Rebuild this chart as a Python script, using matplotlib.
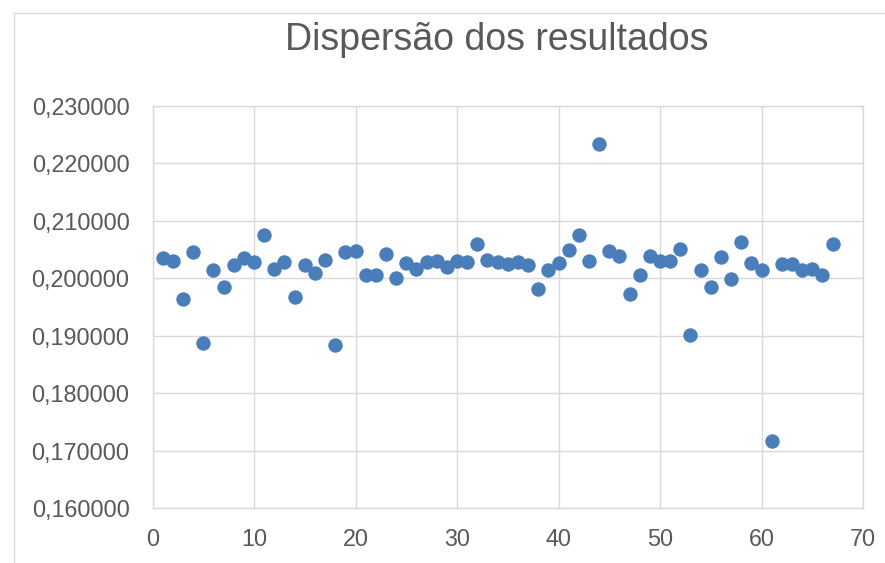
import matplotlib
matplotlib.use("Agg")
import matplotlib.pyplot as plt
from matplotlib.patches import Rectangle
from matplotlib.ticker import FuncFormatter

title = "Dispersão dos resultados"
x_values = list(range(1, 68))
y_values = [
    0.20347, 0.20306, 0.19647, 0.20462, 0.18879, 0.20150, 0.19844, 0.20231, 0.20347, 0.20289,
    0.20746, 0.20156, 0.20289, 0.19676, 0.20231, 0.20098, 0.20318, 0.18832, 0.20451, 0.20468,
    0.20058, 0.20064, 0.20416, 0.20012, 0.20272, 0.20168, 0.20289, 0.20301, 0.20202, 0.20301,
    0.20289, 0.20590, 0.20318, 0.20289, 0.20243, 0.20289, 0.20231, 0.19821, 0.20145, 0.20260,
    0.20491, 0.20751, 0.20295, 0.22329, 0.20468, 0.20393, 0.19728, 0.20058, 0.20393, 0.20306,
    0.20306, 0.20503, 0.19012, 0.20145, 0.19850, 0.20364, 0.19994, 0.20636, 0.20260, 0.20150,
    0.17168, 0.20249, 0.20249, 0.20145, 0.20162, 0.20052, 0.20590,
]
x_ticks = [0, 10, 20, 30, 40, 50, 60, 70]
y_ticks = [0.16, 0.17, 0.18, 0.19, 0.20, 0.21, 0.22, 0.23]

plt.rcParams['font.family'] = ['Liberation Sans', 'DejaVu Sans']

W, H = 885, 563
fig = plt.figure(figsize=(W / 100, H / 100), dpi=100)

# chart-area border (extends beyond the image to right and bottom)
fig.patches.append(Rectangle((14 / W, -0.1), 2.0, 1 - 13 / H + 0.1,
                             transform=fig.transFigure, fill=False,
                             edgecolor='#d9d9d9', linewidth=1.0))

left, right = 152.5 / W, 863 / W
top, bottom = 1 - 105.7 / H, 1 - 508.3 / H
ax = fig.add_axes([left, bottom, right - left, top - bottom])

ax.scatter(x_values, y_values, s=108, color='#4a7ebb', zorder=3, linewidths=0)

ax.set_xlim(0, 70)
ax.set_ylim(0.16, 0.23)
ax.set_xticks(x_ticks)
ax.set_yticks(y_ticks)
ax.yaxis.set_major_formatter(FuncFormatter(lambda v, p: f"{v:.6f}".replace('.', ',')))
ax.grid(True, color='#d9d9d9', linewidth=1.0)
ax.set_axisbelow(True)
for s in ax.spines.values():
    s.set_color('#d9d9d9')
    s.set_linewidth(1.0)
ax.tick_params(length=0, labelsize=16.8, labelcolor='#595959')
ax.tick_params(axis='y', pad=16.5)
ax.tick_params(axis='x', pad=14)

fig.text(497 / W, 1 - 50.5 / H, title, ha='center', va='baseline',
         fontsize=27.0, color='#595959')

fig.savefig('out.png', dpi=100)
